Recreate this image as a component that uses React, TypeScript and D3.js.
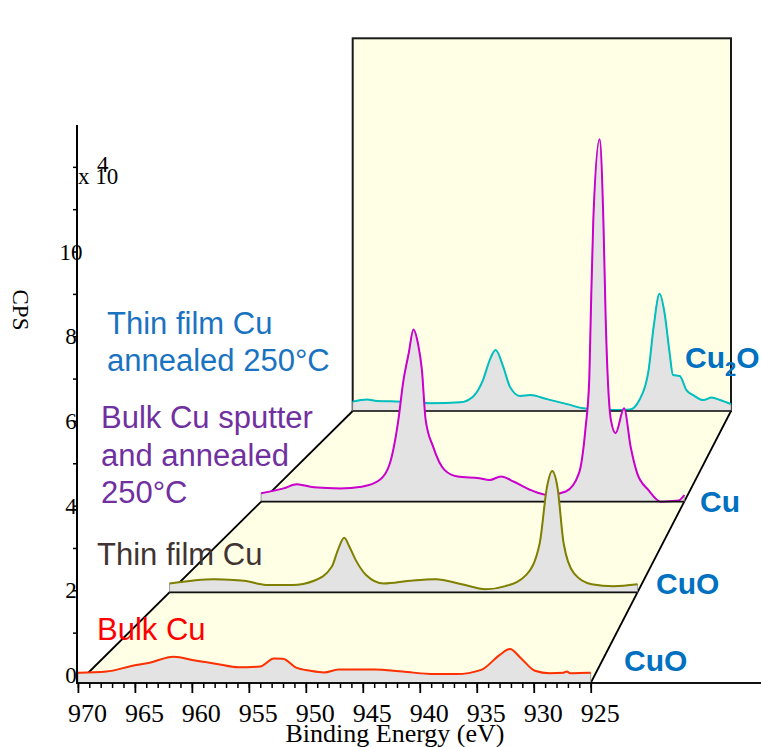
import React, { useEffect, useRef } from "react";
import * as d3 from "d3";

const xTicks = [970, 965, 960, 955, 950, 945, 940, 935, 930, 925];
const yTicks = [0, 2, 4, 6, 8, 10];

// Bulk Cu (front row) - CPS x 10^4 above its own floor
const bulkCuEnergy = [970, 967.5, 965.3, 963.7, 961.6, 959.7, 957.8, 955.9, 954.0, 952.8, 952.0, 950.9, 949.6, 948.4, 947.1, 944.0, 941.5, 938.7, 936.8, 934.6, 933.0, 932.1, 931.1, 929.9, 928.6, 927.4, 927.1, 926.8, 925.2, 925];
const bulkCuCps = [0.24, 0.27, 0.40, 0.48, 0.62, 0.53, 0.45, 0.37, 0.39, 0.58, 0.57, 0.37, 0.29, 0.25, 0.32, 0.32, 0.27, 0.21, 0.21, 0.31, 0.66, 0.80, 0.58, 0.29, 0.23, 0.24, 0.27, 0.23, 0.24, 0.24];

// Thin film Cu
const filmEnergy = [970, 965.7, 962.8, 960.7, 958.2, 956.1, 954.4, 953.8, 953.2, 952.7, 952.1, 951.1, 949.4, 946.9, 944.4, 941.9, 939.6, 937.7, 935.7, 934.4, 933.7, 933.2, 932.7, 932.1, 931.1, 929.4, 927.3, 925];
const filmCps = [0.23, 0.34, 0.30, 0.19, 0.19, 0.30, 0.66, 1.10, 1.41, 1.18, 0.84, 0.45, 0.23, 0.30, 0.34, 0.21, 0.08, 0.16, 0.45, 1.27, 2.73, 3.14, 2.73, 1.27, 0.49, 0.21, 0.16, 0.21];

// Bulk Cu sputter and annealed 250°C
const sputterEnergy = [970, 967.6, 966.2, 964.4, 961.6, 959.3, 957.4, 956.3, 955.4, 954.9, 954.3, 953.8, 953.3, 952.9, 952.5, 951.7, 950.5, 949.1, 946.8, 945.7, 944.5, 943.1, 941.3, 939.4, 937.6, 936.2, 935.5, 935.1, 934.95, 934.67, 934.0, 933.6, 933.35, 932.8, 932.3, 931.4, 930.7, 930.0, 928.8, 927.5, 925.6, 925];
const sputterCps = [0.24, 0.38, 0.50, 0.41, 0.38, 0.43, 0.62, 1.10, 2.34, 3.40, 4.25, 4.93, 4.50, 3.77, 2.34, 1.57, 0.91, 0.72, 0.67, 0.62, 0.72, 0.57, 0.33, 0.19, 0.29, 0.81, 2.10, 3.50, 5.20, 8.06, 10.37, 8.06, 5.20, 2.34, 1.96, 2.67, 1.57, 0.81, 0.33, 0.0, 0.03, 0.19];

// Thin film Cu annealed 250°C (back row)
const annealedEnergy = [970, 968.3, 967.1, 964.2, 960.8, 957.2, 955.7, 954.5, 953.7, 953.0, 952.1, 951.3, 950.1, 948.9, 946.9, 944.5, 942.6, 939.0, 937.0, 935.9, 934.8, 934.2, 933.5, 932.9, 932.3, 931.9, 931.1, 930.3, 929.5, 928.3, 927.3, 926.3, 925];
const annealedCps = [0.30, 0.37, 0.32, 0.30, 0.25, 0.28, 0.46, 0.99, 1.63, 1.95, 1.42, 0.78, 0.48, 0.51, 0.38, 0.22, 0.09, 0.03, 0.05, 0.35, 1.31, 2.70, 3.75, 3.13, 1.85, 1.15, 1.12, 0.67, 0.51, 0.35, 0.43, 0.35, 0.22];

const seriesColors = ["#ff3000", "#808000", "#cc00cc", "#00bfbf"];
const phaseNames = ["CuO", "CuO", "Cu", "Cu2O"];
const bulkLabel = ["Bulk Cu"];
const filmLabel = ["Thin film Cu"];
const sputterLabel = ["Bulk Cu sputter", "and annealed", "250°C"];
const annealedLabel = ["Thin film Cu", "annealed 250°C"];

const serif = "'Liberation Serif', 'Times New Roman', serif";
const sans = "'Liberation Sans', Arial, sans-serif";

export default function App() {
  const svgRef = useRef<SVGSVGElement>(null);

  useEffect(() => {
    const svg = d3.select(svgRef.current);
    svg.selectAll("*").remove();

    const series = [
      { energy: bulkCuEnergy, cps: bulkCuCps },
      { energy: filmEnergy, cps: filmCps },
      { energy: sputterEnergy, cps: sputterCps },
      { energy: annealedEnergy, cps: annealedCps },
    ];

    // floor of the 3D box: front edge and back edge
    const front = { y: 683, x0: 77.9, x1: 590.7 };
    const back = { y: 411, x0: 352.7, x1: 731, top: 38.3 };

    const xFront = d3.scaleLinear().domain([970, 925]).range([front.x0, front.x1]);
    const xBack = d3.scaleLinear().domain([970, 925]).range([back.x0, back.x1]);
    const depth = d3.scaleLinear().domain([0, series.length - 1]).range([0, 1]);
    const y = d3.scaleLinear().domain([0, 13]).range([675.5, 125]);
    const unit = y(0) - y(1);
    const frontWidth = front.x1 - front.x0;

    const floorY = (t) => front.y + (back.y - front.y) * t;
    const px = (e, t) => xFront(e) + (xBack(e) - xFront(e)) * t;
    const scaleAt = (t) => (px(925, t) - px(970, t)) / frontWidth;
    const py = (v, t) => floorY(t) - v * unit * scaleAt(t);

    // back wall
    svg
      .append("rect")
      .attr("x", back.x0)
      .attr("y", back.top)
      .attr("width", back.x1 - back.x0)
      .attr("height", back.y - back.top)
      .attr("fill", "#ffffe6")
      .attr("stroke", "#1a1a1a")
      .attr("stroke-width", 2);

    // floor
    svg
      .append("polygon")
      .attr("points", [
        [front.x0, front.y],
        [front.x1, front.y],
        [back.x1, back.y],
        [back.x0, back.y],
      ].map((p) => p.join(",")).join(" "))
      .attr("fill", "#ffffe6");

    [[front.x0, back.x0], [front.x1, back.x1]].forEach(([a, b]) => {
      svg
        .append("line")
        .attr("x1", a)
        .attr("y1", front.y)
        .attr("x2", b)
        .attr("y2", back.y)
        .attr("stroke", "#000")
        .attr("stroke-width", 1.8);
    });

    // spectra, back row first
    for (let i = series.length - 1; i >= 0; i--) {
      const t = depth(i);
      const pts = series[i].energy.map((e, k) => [e, series[i].cps[k]]);

      const area = d3
        .area()
        .x((d) => px(d[0], t))
        .y0(floorY(t))
        .y1((d) => py(d[1], t))
        .curve(d3.curveMonotoneX);

      svg
        .append("path")
        .datum(pts)
        .attr("d", area)
        .attr("fill", "#e3e3e3")
        .attr("stroke", "#8a8a8a")
        .attr("stroke-width", 0.8);

      const line = d3
        .line()
        .x((d) => px(d[0], t))
        .y((d) => py(d[1], t))
        .curve(d3.curveMonotoneX);

      svg
        .append("path")
        .datum(pts)
        .attr("d", line)
        .attr("fill", "none")
        .attr("stroke", seriesColors[i])
        .attr("stroke-width", 2);

      svg
        .append("line")
        .attr("x1", px(970, t))
        .attr("x2", i === 0 ? 761 : px(925, t))
        .attr("y1", floorY(t))
        .attr("y2", floorY(t))
        .attr("stroke", "#111")
        .attr("stroke-width", i === 0 ? 2 : 1.6);
    }

    // x axis ticks
    const xAxis = svg.append("g").attr("transform", `translate(0,${front.y})`);
    xAxis
      .call(d3.axisBottom(xFront).tickValues(d3.range(925, 971)).tickSize(5).tickFormat(() => ""))
      .call((g) => g.select(".domain").remove());
    xAxis.selectAll("line").attr("stroke", "#000").attr("stroke-width", 1.5);

    const xMajor = svg.append("g").attr("transform", `translate(0,${front.y})`);
    xMajor
      .call(d3.axisBottom(xFront).tickValues(xTicks).tickSize(10).tickFormat(d3.format("d")))
      .call((g) => g.select(".domain").remove());
    xMajor.selectAll("line").attr("stroke", "#000").attr("stroke-width", 1.8);
    xMajor
      .selectAll("text")
      .attr("y", 39)
      .attr("x", 9)
      .attr("dy", null)
      .attr("fill", "#000")
      .style("font-family", serif)
      .style("font-size", "26px");

    svg
      .append("text")
      .attr("x", 395)
      .attr("y", 742)
      .attr("text-anchor", "middle")
      .style("font-family", serif)
      .style("font-size", "26px")
      .text("Binding Energy (eV)");

    // y axis
    svg
      .append("line")
      .attr("x1", 77)
      .attr("x2", 77)
      .attr("y1", front.y + 1)
      .attr("y2", y(13))
      .attr("stroke", "#000")
      .attr("stroke-width", 2);

    svg
      .selectAll("line.ytick")
      .data(d3.range(1, 13))
      .enter()
      .append("line")
      .attr("class", "ytick")
      .attr("x1", 73)
      .attr("x2", 77)
      .attr("y1", (d) => y(d))
      .attr("y2", (d) => y(d))
      .attr("stroke", "#000")
      .attr("stroke-width", 1.5);

    svg
      .selectAll("text.ylab")
      .data(yTicks)
      .enter()
      .append("text")
      .attr("class", "ylab")
      .attr("x", 71)
      .attr("y", (d) => y(d) + 7.5)
      .attr("text-anchor", "middle")
      .style("font-family", serif)
      .style("font-size", "23px")
      .text((d) => d);

    svg
      .append("text")
      .attr("x", 78)
      .attr("y", 184)
      .style("font-family", serif)
      .style("font-size", "23px")
      .text("x 10");
    svg
      .append("text")
      .attr("x", 97)
      .attr("y", 172)
      .style("font-family", serif)
      .style("font-size", "23px")
      .text("4");

    svg
      .append("text")
      .attr("transform", "translate(13,310) rotate(90)")
      .attr("text-anchor", "middle")
      .style("font-family", serif)
      .style("font-size", "23px")
      .text("CPS");

    // sample labels
    const addLines = (lines, x, y0, gap, color) => {
      lines.forEach((s, k) => {
        svg
          .append("text")
          .attr("x", x)
          .attr("y", y0 + k * gap)
          .attr("fill", color)
          .style("font-family", sans)
          .style("font-size", "31px")
          .text(s);
      });
    };
    addLines(annealedLabel, 107, 334, 37, "#1a73c0");
    addLines(sputterLabel, 101, 428, 37.5, "#7030a0");
    addLines(filmLabel, 97, 565, 37, "#3f3431");
    addLines(bulkLabel, 97, 640, 37, "#ff0000");

    // phase labels at the right of each row
    const phasePos = [
      [624, 671],
      [656, 594],
      [700, 512],
      [685, 368],
    ];
    phaseNames.forEach((name, i) => {
      const txt = svg
        .append("text")
        .attr("x", phasePos[i][0])
        .attr("y", phasePos[i][1])
        .attr("fill", "#0070c0")
        .style("font-family", sans)
        .style("font-size", "30px")
        .style("font-weight", "bold");
      const m = name.match(/^([A-Za-z]+)(\d)([A-Za-z]*)$/);
      if (m) {
        txt.append("tspan").text(m[1]);
        txt.append("tspan").attr("dy", 8).style("font-size", "20px").text(m[2]);
        txt.append("tspan").attr("dy", -8).text(m[3]);
      } else {
        txt.text(name);
      }
    });
  }, []);

  return (
    <svg
      ref={svgRef}
      width={761}
      height={747}
      style={{ position: "absolute", left: 0, top: 0, background: "#fff" }}
    ></svg>
  );
}
